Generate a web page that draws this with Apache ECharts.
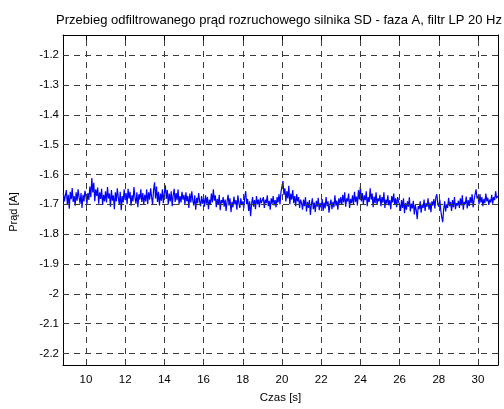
<!DOCTYPE html>
<html><head><meta charset="utf-8">
<script src="https://cdn.jsdelivr.net/npm/echarts@6/dist/echarts.min.js"></script>
<style>html,body{margin:0;padding:0;background:#fff}#c{width:504px;height:409px}</style>
</head><body><div id="c"></div>
<script>
var titleText = 'Przebieg odfiltrowanego prąd rozruchowego silnika SD - faza A, filtr LP 20 Hz';
var xName = 'Czas [s]';
var yName = 'Prąd [A]';
var xTicks = [10,12,14,16,18,20,22,24,26,28,30];
var yTicks = [-1.2,-1.3,-1.4,-1.5,-1.6,-1.7,-1.8,-1.9,-2,-2.1,-2.2];
var t0 = 8.85, dt = 0.05;
var current = [
-1.662,-1.690,-1.671,
-1.652,-1.700,-1.668,-1.715,-1.658,-1.683,-1.645,-1.692,-1.672,-1.705,-1.660,-1.688,-1.650,-1.676,-1.698,-1.662,-1.712,-1.668,-1.690,-1.655,
-1.672,-1.700,-1.662,-1.685,-1.640,-1.676,-1.612,-1.660,-1.628,-1.690,-1.650,-1.672,-1.644,-1.698,-1.660,-1.682,-1.648,-1.702,-1.668,-1.690,
-1.656,-1.694,-1.642,-1.680,-1.664,-1.708,-1.652,-1.688,-1.670,-1.716,-1.660,-1.690,-1.646,-1.678,-1.700,-1.658,-1.720,-1.672,-1.694,-1.650,
-1.686,-1.662,-1.700,-1.648,-1.680,-1.658,-1.705,-1.670,-1.690,-1.642,-1.676,-1.698,-1.660,-1.710,-1.666,-1.684,-1.650,-1.692,-1.662,-1.700,
-1.668,-1.690,-1.650,-1.700,-1.660,-1.684,-1.646,-1.676,-1.700,-1.652,-1.626,-1.680,-1.640,-1.692,-1.658,-1.704,-1.664,-1.688,-1.650,-1.696,
-1.660,-1.636,-1.682,-1.652,-1.700,-1.664,-1.690,-1.656,-1.706,-1.670,-1.648,-1.692,-1.662,-1.686,-1.650,-1.700,-1.672,-1.694,-1.658,-1.684,
-1.668,-1.700,-1.660,-1.690,-1.672,-1.712,-1.664,-1.694,-1.656,-1.686,-1.704,-1.670,-1.718,-1.678,-1.696,-1.662,-1.690,-1.706,-1.672,-1.698,
-1.680,-1.708,-1.670,-1.698,-1.676,-1.716,-1.684,-1.700,-1.664,-1.694,-1.650,-1.688,-1.670,-1.710,-1.682,-1.702,-1.668,-1.720,-1.686,-1.696,
-1.676,-1.708,-1.684,-1.722,-1.690,-1.668,-1.704,-1.680,-1.726,-1.692,-1.710,-1.674,-1.700,-1.686,-1.718,-1.670,-1.696,-1.712,-1.680,-1.702,
-1.690,-1.714,-1.676,-1.656,-1.700,-1.682,-1.722,-1.690,-1.740,-1.698,-1.676,-1.708,-1.686,-1.716,-1.672,-1.700,-1.684,-1.710,-1.678,-1.696,
-1.702,-1.676,-1.712,-1.684,-1.696,-1.670,-1.706,-1.688,-1.718,-1.680,-1.698,-1.672,-1.704,-1.686,-1.710,-1.676,-1.694,-1.666,-1.700,-1.658,
-1.640,-1.622,-1.668,-1.646,-1.690,-1.656,-1.680,-1.638,-1.700,-1.664,-1.684,-1.652,-1.696,-1.672,-1.706,-1.666,-1.690,-1.676,-1.712,-1.684,
-1.696,-1.718,-1.684,-1.706,-1.676,-1.724,-1.692,-1.712,-1.686,-1.736,-1.700,-1.680,-1.716,-1.694,-1.726,-1.688,-1.708,-1.678,-1.720,-1.696,
-1.710,-1.682,-1.722,-1.694,-1.714,-1.676,-1.706,-1.690,-1.728,-1.700,-1.684,-1.716,-1.692,-1.710,-1.670,-1.704,-1.688,-1.718,-1.680,-1.698,
-1.676,-1.702,-1.668,-1.694,-1.660,-1.708,-1.680,-1.690,-1.664,-1.712,-1.682,-1.696,-1.670,-1.700,-1.658,-1.692,-1.674,-1.704,-1.652,-1.684,
-1.640,-1.690,-1.662,-1.700,-1.670,-1.686,-1.656,-1.706,-1.676,-1.692,-1.646,-1.684,-1.664,-1.710,-1.674,-1.696,-1.660,-1.702,-1.680,-1.690,
-1.668,-1.706,-1.676,-1.694,-1.660,-1.712,-1.684,-1.698,-1.670,-1.704,-1.686,-1.716,-1.672,-1.694,-1.664,-1.700,-1.680,-1.710,-1.676,-1.692,
-1.700,-1.722,-1.686,-1.712,-1.680,-1.730,-1.696,-1.718,-1.690,-1.708,-1.676,-1.724,-1.698,-1.714,-1.688,-1.734,-1.702,-1.720,-1.750,-1.706,
-1.716,-1.690,-1.728,-1.700,-1.712,-1.684,-1.722,-1.696,-1.708,-1.680,-1.718,-1.694,-1.726,-1.690,-1.704,-1.682,-1.714,-1.676,-1.666,-1.698,
-1.708,-1.684,-1.720,-1.742,-1.760,-1.716,-1.690,-1.724,-1.700,-1.712,-1.678,-1.706,-1.692,-1.722,-1.686,-1.710,-1.676,-1.716,-1.696,-1.704,
-1.688,-1.712,-1.680,-1.704,-1.670,-1.718,-1.692,-1.700,-1.674,-1.714,-1.686,-1.706,-1.676,-1.696,-1.666,-1.710,-1.684,-1.690,-1.650,-1.680,
-1.672,-1.700,-1.666,-1.694,-1.676,-1.706,-1.682,-1.696,-1.664,-1.690,-1.678,-1.702,-1.684,-1.694,-1.668,-1.698,-1.676,-1.686,-1.656,-1.680,
-1.672
];
var xMin = 8.83, xMax = 31.02, yMin = -2.239, yMax = -1.132;

var pts = current.map(function(v,i){ return [+(t0 + i*dt).toFixed(3), v]; });
var font = 'Liberation Sans, Arial, sans-serif';
var gridLines = xTicks.map(function(v){return {xAxis:v};}).concat(yTicks.map(function(v){return {yAxis:v};}));
function axisBase(extra){
  var a = {
    type:'value', axisLine:{show:true,onZero:false,lineStyle:{color:'#000',width:1}},
    splitLine:{show:false}, axisTick:{show:true,inside:true,length:5,lineStyle:{color:'#000'}},
    axisLabel:{show:false}
  };
  for (var k in extra) a[k]=extra[k];
  return a;
}
var chart = echarts.init(document.getElementById('c'), null, {renderer:'canvas'});
chart.setOption({
  animation:false,
  backgroundColor:'#fff',
  grid:{left:63,right:6,top:35,bottom:33,containLabel:false},
  xAxis:[
    axisBase({min:xMin,max:xMax,position:'bottom',
      axisTick:{show:true,inside:true,length:5,lineStyle:{color:'#000'},customValues:xTicks},
      axisLabel:{show:true,customValues:xTicks,color:'#000',fontSize:11.5,fontFamily:font,margin:9},
      name:xName,nameLocation:'middle',nameGap:27,nameTextStyle:{color:'#000',fontSize:11.5,fontFamily:font}}),
    axisBase({min:xMin,max:xMax,position:'top',
      axisTick:{show:true,inside:true,length:5,lineStyle:{color:'#000'},customValues:xTicks}})
  ],
  yAxis:[
    axisBase({min:yMin,max:yMax,position:'left',
      axisTick:{show:true,inside:true,length:5,lineStyle:{color:'#000'},customValues:yTicks},
      axisLabel:{show:true,customValues:yTicks,color:'#000',fontSize:11.5,fontFamily:font,margin:4}}),
    axisBase({min:yMin,max:yMax,position:'right',
      axisTick:{show:true,inside:true,length:5,lineStyle:{color:'#000'},customValues:yTicks}})
  ],
  graphic:[
    {type:'text',x:279,y:20,style:{text:titleText,textAlign:'center',textVerticalAlign:'middle',fill:'#000',font:'13px '+font}},
    {type:'text',x:14,y:212,rotation:Math.PI/2,style:{text:yName,textAlign:'center',textVerticalAlign:'middle',fill:'#000',font:'11px '+font}}
  ],
  series:[
    {type:'line',data:[],z:1,silent:true,
      markLine:{silent:true,symbol:'none',label:{show:false},animation:false,
        lineStyle:{type:[6,5],color:'#3a3a3a',width:1},emphasis:{disabled:true},data:gridLines}},
    {type:'line',data:pts,z:3,showSymbol:false,symbol:'none',silent:true,
      lineStyle:{color:'#0000ff',width:1.2}}
  ]
});
</script></body></html>
